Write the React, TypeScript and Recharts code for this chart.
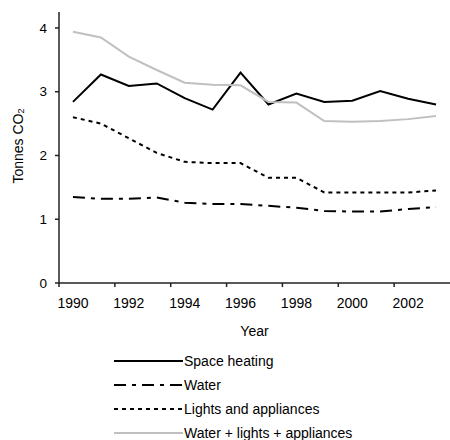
import React from 'react';
import { LineChart, Line, XAxis, YAxis, Legend } from 'recharts';

const years = [1990, 1991, 1992, 1993, 1994, 1995, 1996, 1997, 1998, 1999, 2000, 2001, 2002, 2003];
const spaceHeating = [2.84, 3.27, 3.09, 3.13, 2.9, 2.72, 3.3, 2.8, 2.97, 2.84, 2.86, 3.01, 2.89, 2.8];
const water = [1.35, 1.32, 1.32, 1.34, 1.26, 1.24, 1.24, 1.21, 1.18, 1.13, 1.12, 1.12, 1.16, 1.19];
const lights = [2.6, 2.5, 2.27, 2.04, 1.9, 1.88, 1.88, 1.65, 1.65, 1.42, 1.42, 1.42, 1.42, 1.45];
const combined = [3.94, 3.85, 3.55, 3.34, 3.14, 3.11, 3.1, 2.84, 2.83, 2.54, 2.53, 2.54, 2.57, 2.62];

// tick marks sit between years, labels every second year
const xTicks = [1989.5, 1991.5, 1993.5, 1995.5, 1997.5, 1999.5, 2001.5];
const yTicks = [0, 1, 2, 3, 4];

const data = years.map((y, i) => ({
  year: y,
  heating: spaceHeating[i],
  water: water[i],
  lights: lights[i],
  combined: combined[i],
}));

const series = [
  { key: 'heating', name: 'Space heating', color: '#000', dash: undefined },
  { key: 'water', name: 'Water', color: '#000', dash: '12 6 4 6' },
  { key: 'lights', name: 'Lights and appliances', color: '#000', dash: '4 4' },
  { key: 'combined', name: 'Water + lights + appliances', color: '#c0c0c0', dash: undefined },
];

const font = 'Arial, "Liberation Sans", sans-serif';

const YLabel = () => (
  <text
    x={18}
    y={146}
    transform="rotate(-90, 18, 146)"
    textAnchor="middle"
    dominantBaseline="central"
    fontSize={14}
    fontFamily={font}
    fill="#000"
  >
    Tonnes CO<tspan fontSize={9} dy={3}>2</tspan>
  </text>
);

const LegendBox = () => (
  <div style={{ fontFamily: font, fontSize: 14, color: '#000' }}>
    {series.map(s => (
      <div key={s.key} style={{ display: 'flex', alignItems: 'center', height: 24 }}>
        <svg width={69} height={6} style={{ display: 'block' }}>
          <line x1={0} y1={3} x2={69} y2={3} stroke={s.color} strokeWidth={2} strokeDasharray={s.dash} />
        </svg>
        <span style={{ marginLeft: 1, whiteSpace: 'nowrap' }}>{s.name}</span>
      </div>
    ))}
  </div>
);

export default function App() {
  return (
    <div style={{ position: 'absolute', left: 0, top: 0, width: 450, height: 440, background: '#fff' }}>
      <LineChart width={450} height={440} data={data} margin={{ top: 12, right: 0, bottom: 97, left: 0 }}>
        <XAxis
          xAxisId="top"
          orientation="top"
          dataKey="year"
          type="number"
          domain={[1989.5, 2003.5]}
          height={0}
          tick={false}
          tickLine={false}
          stroke="#222"
          strokeWidth={1.5}
        />
        <XAxis
          dataKey="year"
          type="number"
          domain={[1989.5, 2003.5]}
          ticks={xTicks}
          tickFormatter={(v: number) => String(v + 0.5)}
          tick={{ fill: '#000', fontSize: 14, fontFamily: font, dx: 14 }}
          tickSize={4}
          tickMargin={11}
          stroke="#222"
          strokeWidth={1.5}
          height={60}
          label={{ value: 'Year', position: 'insideBottom', offset: 7, fill: '#000', fontSize: 14, fontFamily: font }}
        />
        <YAxis
          domain={[0, 4.25]}
          ticks={yTicks}
          width={59}
          tick={{ fill: '#000', fontSize: 13.5, fontFamily: font }}
          tickSize={4}
          tickMargin={8}
          stroke="#222"
          strokeWidth={1.5}
          label={<YLabel />}
        />
        <Legend
          layout="vertical"
          align="center"
          verticalAlign="middle"
          wrapperStyle={{ top: 349, left: 114, width: 'auto' }}
          content={() => <LegendBox />}
        />
        {series.map(s => (
          <Line
            key={s.key}
            type="linear"
            dataKey={s.key}
            name={s.name}
            stroke={s.color}
            strokeWidth={2}
            strokeDasharray={s.dash}
            dot={false}
            activeDot={false}
            isAnimationActive={false}
          />
        ))}
      </LineChart>
    </div>
  );
}
